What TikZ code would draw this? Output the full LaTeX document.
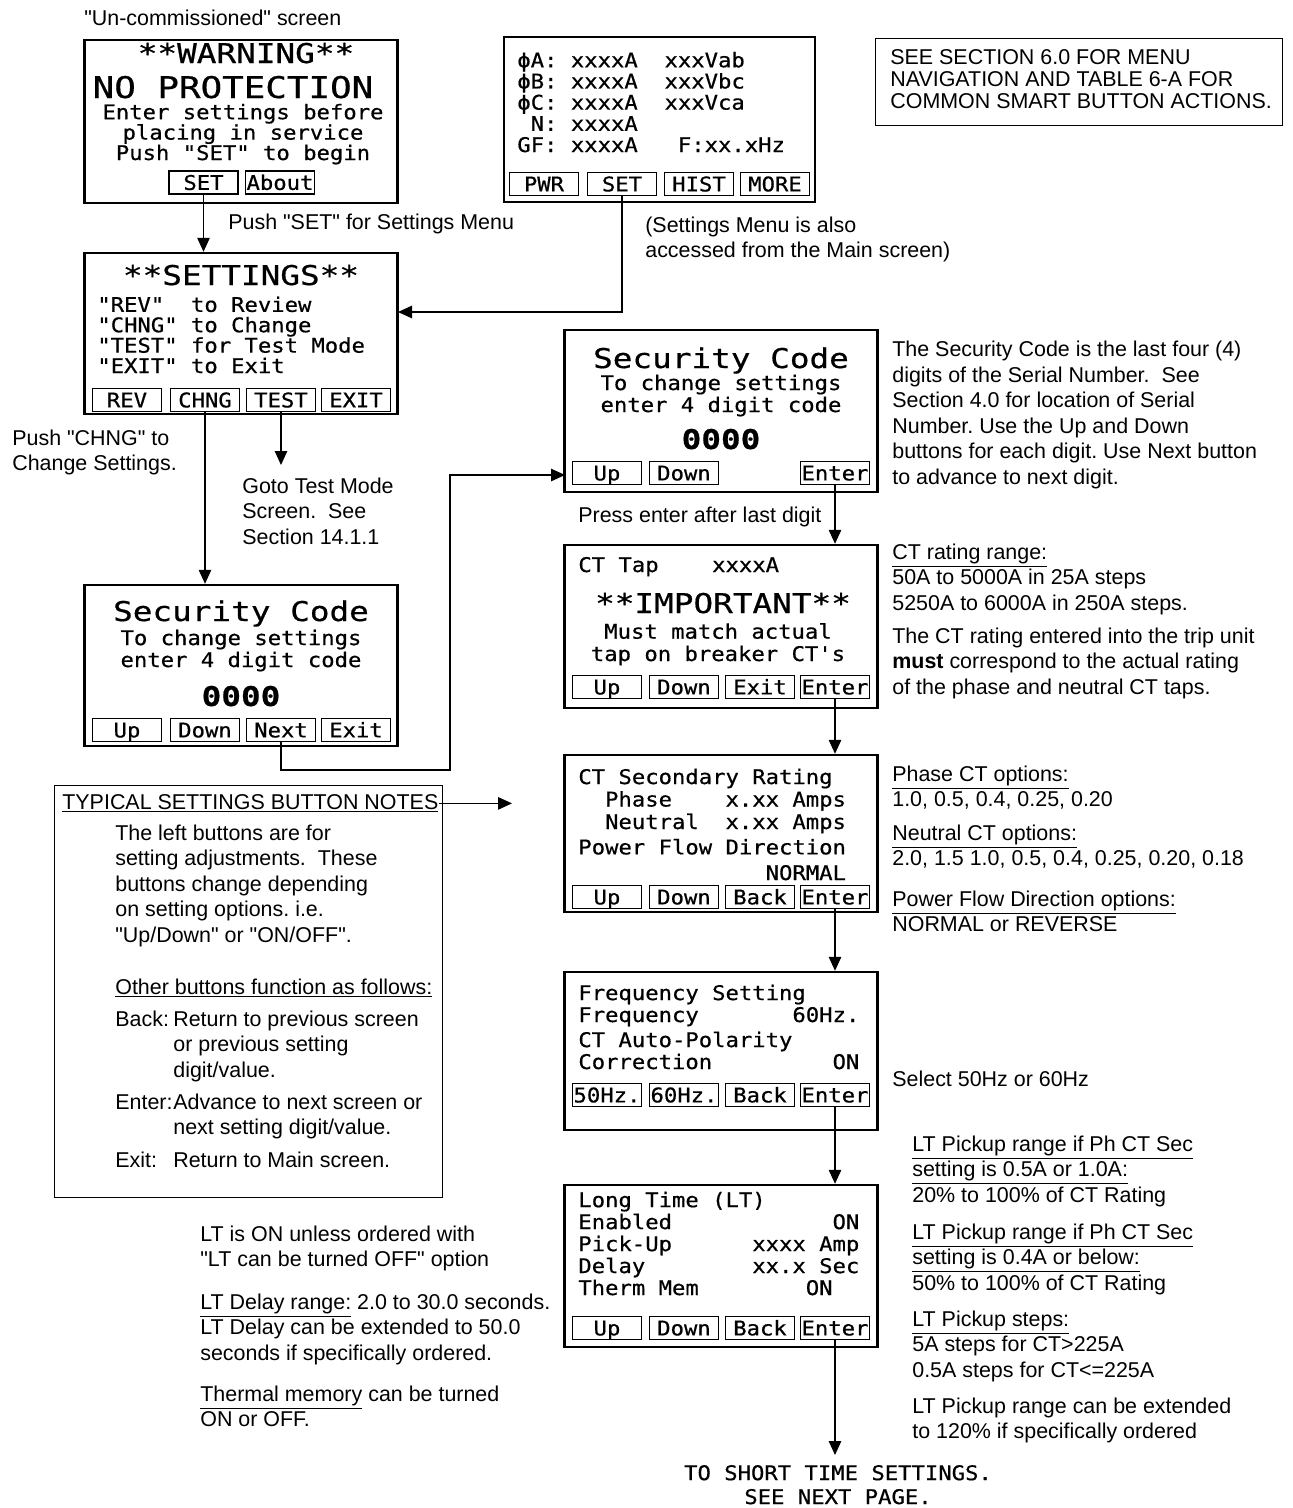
\documentclass[tikz,border=0pt]{standalone}
\usepackage{fontspec}
\setmainfont{Liberation Sans}[Ligatures=TeXOff]
\newfontfamily\lcdfont[FakeStretch=1.1, FakeBold=0.6]{DejaVu Sans Mono}
\newfontfamily\lcdbigfont[FakeStretch=1.2, FakeBold=0.6]{DejaVu Sans Mono}
\usetikzlibrary{arrows.meta,positioning}
\tikzset{
  screen/.style={draw, line width=1.4pt, minimum width=6.26cm, inner sep=0pt},
  btn/.style={draw, line width=0.6pt, minimum width=1.38cm, minimum height=0.46cm, inner sep=0pt, text height=8.4pt, text depth=0pt, font=\lcdfont\fontsize{11.5}{12}\selectfont},
  lcd/.style={inner sep=0pt, anchor=base west, align=left, font=\lcdfont\frenchspacing\fontsize{11.5}{#1}\selectfont},
  lcd/.default=12,
  lcdc/.style={lcd=#1, anchor=base, align=center},
  lcdc/.default=12,
  lcdbig/.style={inner sep=0pt, anchor=base, font=\lcdbigfont\fontsize{15.5}{18}\selectfont},
  note/.style={inner sep=0pt, anchor=base west, align=left, font=\frenchspacing\fontsize{12.2}{14.5}\selectfont},
  notebox/.style={draw, line width=0.6pt, inner sep=0pt},
  pre/.style={-{Triangle[length=2.8mm, width=2.5mm]}, line width=0.7pt},
}
\begin{document}
\begin{tikzpicture}[x=0.02cm, y=-0.02cm]
\useasboundingbox (0,0) rectangle (1293,1508);
% (multi-line texts sit on the baseline of their last line)

% un-commissioned screen
\node[note] (uncap) at (84,25) {"Un-commissioned" screen};
\node[screen, minimum height=3.26cm] (warn) at (241,121.5) {};
\node[lcdbig] (warn1) at (246,63) {**WARNING**};
\node[lcdbig, font=\lcdbigfont\fontsize{17}{18}\selectfont] (warn2) at (233,98) {NO PROTECTION};
\node[lcdc=11.6] (warn3) at (243,160) {Enter settings before\\placing in service\\Push "SET" to begin};
\node[btn] (wset) at (203.5,182.5) {SET};
\node[btn] (wabout) at (280,182.5) {About};

% main screen
\node[screen, minimum width=6.22cm, minimum height=3.3cm] (mainscr) at (659.5,119.5) {};
\node[lcd=12.05] (mainval) at (517,152) {ϕA:~xxxxA~~xxxVab\\ϕB:~xxxxA~~xxxVbc\\ϕC:~xxxxA~~xxxVca\\~N:~xxxxA\\GF:~xxxxA~~~F:xx.xHz};
\node[btn] (mpwr) at (544,184) {PWR};
\node[btn] (mset) at (622,184) {SET};
\node[btn] (mhist) at (699,184) {HIST};
\node[btn] (mmore) at (775,184) {MORE};

\node[notebox, anchor=north west, minimum width=8.14cm, minimum height=1.74cm] (navbox) at (875,38) {};
\node[note, font=\fontsize{12.2}{12.5}\selectfont] (navtext) at (890,108) {SEE SECTION 6.0 FOR MENU\\NAVIGATION AND TABLE 6-A FOR\\COMMON SMART BUTTON ACTIONS.};

% settings screen
\node[screen, minimum height=3.22cm] (setscr) at (241,333.5) {};
\node[lcdbig] (settitle) at (241,285) {**SETTINGS**};
\node[lcd=11.6] (setlist) at (97,373) {"REV"~~to Review\\"CHNG" to Change\\"TEST" for Test Mode\\"EXIT" to Exit};
\node[btn] (srev) at (127,400) {REV};
\node[btn] (schng) at (205,400) {CHNG};
\node[btn] (stest) at (281,400) {TEST};
\node[btn] (sexit) at (356,400) {EXIT};

\node[note] (pushset) at (228,229) {Push "SET" for Settings Menu};
\node[note] (alsomain) at (645,257.5) {(Settings Menu is also\\accessed from the Main screen)};
\node[note] (pushchng) at (12,470.5) {Push "CHNG" to\\Change Settings.};
\node[note] (gotest) at (242,544) {Goto Test Mode\\Screen.~~See\\Section 14.1.1};

% security code, left
\node[screen, minimum height=3.22cm] (lsec) at (241,665.5) {};
\node[lcdbig] (lsectitle) at (241,621) {Security Code};
\node[lcdc=12.5] (lsectext) at (241,667) {To change settings\\enter 4 digit code};
\node[lcdbig, font=\lcdbigfont\bfseries\fontsize{15.5}{18}\selectfont] (lseccode) at (241,706) {0000};
\node[btn] (lup) at (127,730) {Up};
\node[btn] (ldown) at (205,730) {Down};
\node[btn] (lnext) at (281,730) {Next};
\node[btn] (lexit) at (356,730) {Exit};

% security code, right
\node[screen, minimum height=3.24cm] (rsec) at (721,411) {};
\node[lcdbig] (rsectitle) at (721,368) {Security Code};
\node[lcdc=12.5] (rsectext) at (721,412) {To change settings\\enter 4 digit code};
\node[lcdbig, font=\lcdbigfont\bfseries\fontsize{15.5}{18}\selectfont] (rseccode) at (721,449) {0000};
\node[btn] (rsup) at (607,473) {Up};
\node[btn] (rsdown) at (684,473) {Down};
\node[btn] (rsenter) at (835,473) {Enter};
\node[note] (secnote) at (892,484) {The Security Code is the last four (4)\\digits of the Serial Number.~ See\\Section 4.0 for location of Serial\\Number. Use the Up and Down\\buttons for each digit. Use Next button\\to advance to next digit.};
\node[note] (pressent) at (578,522) {Press enter after last digit};

% CT tap
\node[screen, minimum height=3.26cm] (ctap) at (721,626.5) {};
\node[lcd] (ctaptext) at (578,572) {CT Tap~~~~xxxxA};
\node[lcdbig] (ctapimp) at (723,613) {**IMPORTANT**};
\node[lcdc=12.7] (ctapmsg) at (718,661) {Must match actual\\tap on breaker CT's};
\node[btn] (ctup) at (607,687) {Up};
\node[btn] (ctdown) at (684,687) {Down};
\node[btn] (ctexit) at (760,687) {Exit};
\node[btn] (ctenter) at (835,687) {Enter};
\node[note] (ctrange) at (892,610) {\underline{CT rating range:}\\50A to 5000A in 25A steps\\5250A to 6000A in 250A steps.};
\node[note] (ctmust) at (892,694) {The CT rating entered into the trip unit\\\textbf{must} correspond to the actual rating\\of the phase and neutral CT taps.};

% CT secondary
\node[screen, minimum height=3.14cm] (ctsec) at (721,833.5) {};
\node[lcd=12.8] (ctsectext) at (578,829) {CT Secondary Rating\\~~Phase~~~~x.xx Amps\\~~Neutral~~x.xx Amps};
\node[lcd=14.6] (ctsecflow) at (578,880) {Power Flow Direction\\~~~~~~~~~~~~~~NORMAL};
\node[btn] (csup) at (607,897) {Up};
\node[btn] (csdown) at (684,897) {Down};
\node[btn] (csback) at (760,897) {Back};
\node[btn] (csenter) at (835,897) {Enter};
\node[note] (phaseopt) at (892,806.5) {\underline{Phase CT options:}\\1.0, 0.5, 0.4, 0.25, 0.20};
\node[note] (neutopt) at (892,865.5) {\underline{Neutral CT options:}\\2.0, 1.5 1.0, 0.5, 0.4, 0.25, 0.20, 0.18};
\node[note] (flowopt) at (892,931.5) {\underline{Power Flow Direction options:}\\NORMAL or REVERSE};

% frequency
\node[screen, minimum height=3.16cm] (freq) at (721,1051) {};
\node[lcd=12.5] (freqtext) at (578,1022) {Frequency Setting\\Frequency~~~~~~~60Hz.};
\node[lcd=12.5] (freqpol) at (578,1069) {CT Auto-Polarity\\Correction~~~~~~~~~ON};
\node[btn] (fq50) at (607,1095) {50Hz.};
\node[btn] (fq60) at (684,1095) {60Hz.};
\node[btn] (fqback) at (760,1095) {Back};
\node[btn] (fqenter) at (835,1095) {Enter};
\node[note] (freqnote) at (892,1086) {Select 50Hz or 60Hz};

% long time
\node[screen, minimum height=3.24cm] (ltscr) at (721,1266) {};
\node[lcd=12.5] (lttext) at (578,1295) {Long Time (LT)\\Enabled~~~~~~~~~~~~ON\\Pick-Up~~~~~~xxxx Amp\\Delay~~~~~~~~xx.x Sec\\Therm Mem~~~~~~~~ON};
\node[btn] (ltup) at (607,1328) {Up};
\node[btn] (ltdown) at (684,1328) {Down};
\node[btn] (ltback) at (760,1328) {Back};
\node[btn] (ltenter) at (835,1328) {Enter};
\node[note] (ltpick1) at (912,1202) {\underline{LT Pickup range if Ph CT Sec}\\\underline{setting is 0.5A or 1.0A:}\\20\% to 100\% of CT Rating};
\node[note] (ltpick2) at (912,1290) {\underline{LT Pickup range if Ph CT Sec}\\\underline{setting is 0.4A or below:}\\50\% to 100\% of CT Rating};
\node[note] (ltsteps) at (912,1377) {\underline{LT Pickup steps:}\\5A steps for CT>225A\\0.5A steps for CT<=225A};
\node[note] (ltext) at (912,1438.5) {LT Pickup range can be extended\\to 120\% if specifically ordered};
\node[note] (lton) at (200,1266.5) {LT is ON unless ordered with\\"LT can be turned OFF" option};
\node[note] (ltdelay) at (200,1360) {\underline{LT Delay range:} 2.0 to 30.0 seconds.\\LT Delay can be extended to 50.0\\seconds if specifically ordered.};
\node[note] (ltmem) at (200,1426.5) {\underline{Thermal memory} can be turned\\ON or OFF.};
\node[lcdc=13.6] (tonext) at (838,1504) {TO SHORT TIME SETTINGS.\\SEE NEXT PAGE.};

% button notes
\node[notebox, anchor=north west, minimum width=7.76cm, minimum height=8.24cm] (notes) at (54,785) {};
\node[note] (notestitle) at (62,809) {\underline{TYPICAL SETTINGS BUTTON NOTES}};
\node[note] (notesleft) at (115,942) {The left buttons are for\\setting adjustments.~ These\\buttons change depending\\on setting options. i.e.\\"Up/Down" or "ON/OFF".};
\node[note] (notesother) at (115,994) {\underline{Other buttons function as follows:}};
\node[note] (nback) at (115,1026) {Back:};
\node[note] (nbacktxt) at (173,1077) {Return to previous screen\\or previous setting\\digit/value.};
\node[note] (nenter) at (115,1109) {Enter:};
\node[note] (nentertxt) at (173,1134.5) {Advance to next screen or\\next setting digit/value.};
\node[note] (nexit) at (115,1167) {Exit:};
\node[note] (nexittxt) at (173,1167) {Return to Main screen.};

% connectors
\coordinate (setin) at (398,312);
\coordinate (testend) at (281,465);
\coordinate (nextjog) at (450,770);
\coordinate (secin) at (565,475);
\coordinate (notetip) at (512,803);
\coordinate (ltout) at (835,1455);
\draw[pre] (wset.south) -- (wset.south |- setscr.north);
\draw[pre] (mset.south) |- (setin);
\draw[pre] (schng.south) -- (schng.south |- lsec.north);
\draw[pre] (stest.south) -- (testend);
\draw[pre] (lnext.south) |- (nextjog) |- (secin);
\draw[pre] (rsenter.south) -- (rsenter.south |- ctap.north);
\draw[pre] (ctenter.south) -- (ctenter.south |- ctsec.north);
\draw[pre] (csenter.south) -- (csenter.south |- freq.north);
\draw[pre] (fqenter.south) -- (fqenter.south |- ltscr.north);
\draw[pre] (ltenter.south) -- (ltout);
\draw[pre] (notestitle.east) -- (notestitle.east -| notetip);
\end{tikzpicture}
\end{document}
